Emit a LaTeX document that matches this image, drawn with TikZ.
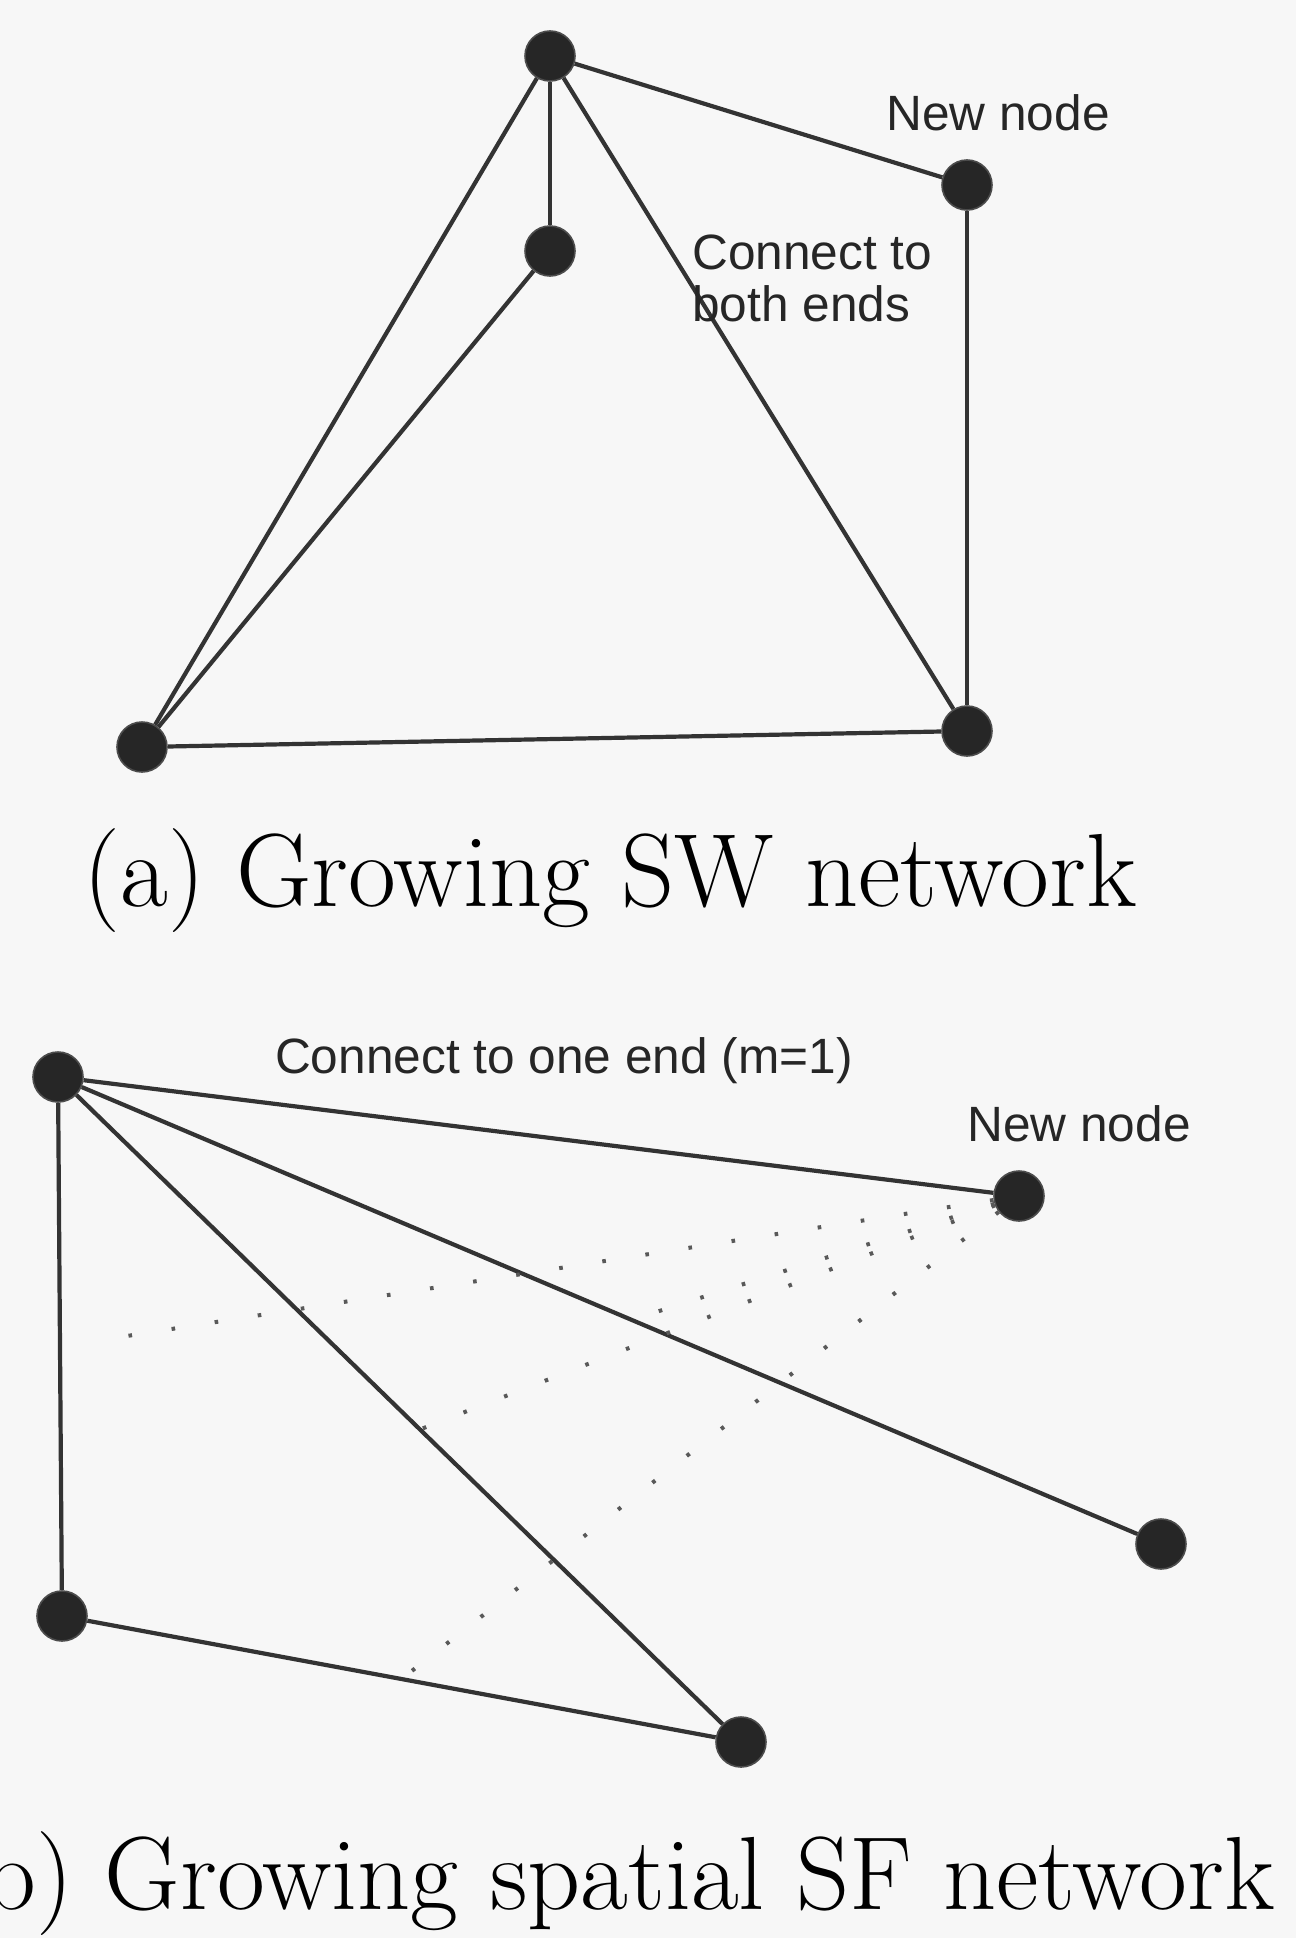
\documentclass[tikz,border=0pt]{standalone}
\usepackage{fontspec}
\newfontfamily\labelfont{Liberation Sans}
\usetikzlibrary{calc}
\begin{document}
\begin{tikzpicture}[x=0.5pt,y=-0.5pt,
  vtx/.style={circle,fill=black!85,draw=black!70,line width=0.8pt,minimum size=25pt,inner sep=0pt},
  link/.style={draw=black!80,line width=2.1pt},
  hint/.style={draw=black!65,line width=2pt,dash pattern=on 1.8pt off 20pt},
  lbl/.style={font=\labelfont\fontsize{24.8}{29}\selectfont,text=black!85,inner sep=0pt},
  captxt/.style={font=\fontsize{52}{58}\selectfont,inner sep=0pt}]
\fill[black!3] (0,0) rectangle (1296,1938);
\useasboundingbox (0,0) rectangle (1296,1938);
% (a)
\node[vtx] (T) at (550,56) {};
\node[vtx] (M) at (550,251) {};
\node[vtx] (N) at (967,185) {};
\node[vtx] (BL) at (142,747) {};
\node[vtx] (BR) at (967,731) {};
\draw[link] (T) -- (N);
\draw[link] (T) -- (M);
\draw[link] (T) -- (BL);
\draw[link] (T) -- (BR);
\draw[link] (M) -- (BL);
\draw[link] (N) -- (BR);
\draw[link] (BL) -- (BR);
\node[lbl,anchor=base] (lnewa) at (998,130) {New node};
\node[lbl,anchor=base west,align=left] (lconn) at (692,321) {Connect to\\[-3pt]both ends};
\node[captxt,anchor=base] (capa) at (610,906) {(a) Growing SW network};
% (b)
\node[vtx] (TL) at (58,1077) {};
\node[vtx] (NN) at (1019,1196) {};
\node[vtx] (R) at (1161,1544) {};
\node[vtx] (BL2) at (62,1616) {};
\node[vtx] (B) at (741,1742) {};
\draw[link] (TL) -- (NN);
\draw[link] (TL) -- (R);
\draw[link] (TL) -- (B);
\draw[link] (TL) -- (BL2);
\draw[link] (BL2) -- (B);
\coordinate (pA) at ($(TL)!0.5!(BL2)$);
\coordinate (pB) at ($(TL)!0.52!(R)$);
\coordinate (pC) at ($(TL)!0.53!(B)$);
\coordinate (pD) at ($(BL2)!0.5!(B)$);
\draw[hint] (NN) -- ($(pA)!0.6cm!(NN)$);
\draw[hint] (NN) -- (pB);
\draw[hint] (NN) -- (pC);
\draw[hint] (NN) -- (pD);
\node[lbl,anchor=base] (lone) at (564,1073) {Connect to one end (m=1)};
\node[lbl,anchor=base] (lnewb) at (1079,1141) {New node};
\node[captxt,anchor=base east] (capb) at (1275,1909) {(b) Growing spatial SF network};
\end{tikzpicture}
\end{document}
